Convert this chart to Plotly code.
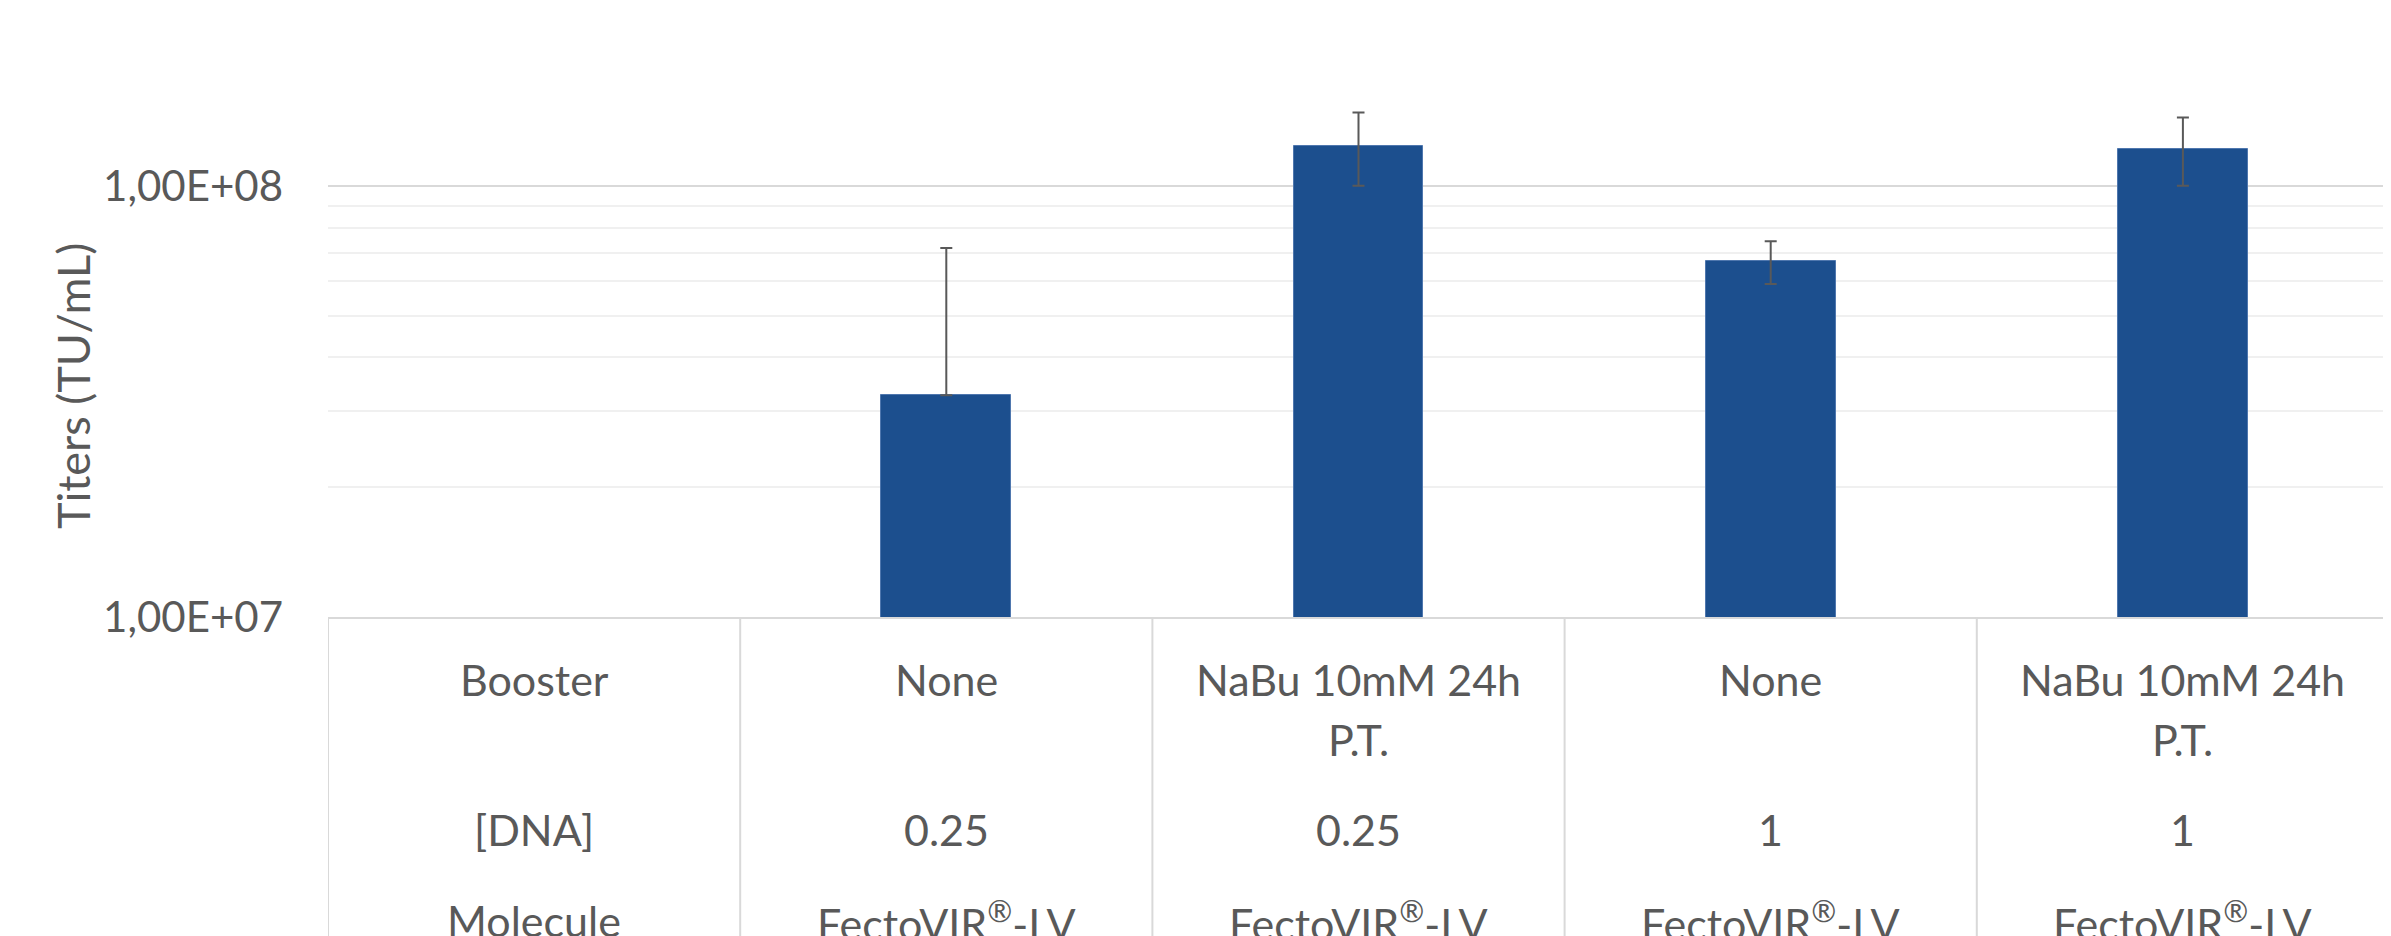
import textwrap
import plotly.graph_objects as go

# ---- data ----
row_headers = ["Booster", "[DNA]", "Molecule"]
booster = ["None", "NaBu 10mM 24h P.T.", "None", "NaBu 10mM 24h P.T."]
dna = ["0.25", "0.25", "1", "1"]
molecule = ["FectoVIR®-LV", "FectoVIR®-LV", "FectoVIR®-LV", "FectoVIR®-LV"]
titers = [3.27e7, 1.24e8, 6.68e7, 1.22e8]
err_plus = [3.9e7, 2.4e7, 7.6e6, 2.2e7]
err_minus = [0, 2.4e7, 7.6e6, 2.2e7]
ytick_vals = [1e7, 1e8]
ytick_text = ["1,00E+07", "1,00E+08"]
yminor_vals = [2e7, 3e7, 4e7, 5e7, 6e7, 7e7, 8e7, 9e7, 2e8]

# page offset (body margin) compensation
OFF = 8
W, H = 2391 - OFF, 936 - OFF
L, T = 328 - OFF, 56 - OFF
R = W - (2389 - OFF)
B = H - (617 - OFF)
plot_h = H - T - B
FONT = "Lato"
TXT = "#595959"
FS = 43

n_cols = len(booster) + 1
xpos = list(range(1, n_cols))

fig = go.Figure()
fig.add_trace(go.Bar(
    x=xpos, y=titers, width=0.315,
    marker=dict(color="#1C4F8E", line=dict(color="#4F77AE", width=1)),
    error_y=dict(type="data", symmetric=False, array=err_plus, arrayminus=err_minus,
                 color="#595959", thickness=2, width=6),
    showlegend=False,
))

def py(px):
    # page pixel y (from top of screenshot) -> paper coordinate
    return (H - B - (px - OFF)) / plot_h

def disp(s):
    return s.replace("®", "<sup>®</sup>")

annotations = []
shapes = []

row_y = {"b1": 679, "dna": 829, "mol": 920}
LINE = 60

def add_text(x, ypx, text):
    annotations.append(dict(x=x, y=py(ypx), xref="x", yref="paper", text=disp(text),
                            showarrow=False, xanchor="center", yanchor="middle",
                            font=dict(family=FONT, size=FS, color=TXT)))

# header column
for label, key in zip(row_headers, ["b1", "dna", "mol"]):
    add_text(0, row_y[key], label)
for i, xp in enumerate(xpos):
    for j, ln in enumerate(textwrap.wrap(booster[i], 14)):
        add_text(xp, row_y["b1"] + LINE * j, ln)
    add_text(xp, row_y["dna"], dna[i])
    add_text(xp, row_y["mol"], molecule[i])

# table vertical dividers
for k in range(n_cols + 1):
    shapes.append(dict(type="line", xref="x", yref="paper", x0=k - 0.5, x1=k - 0.5,
                       y0=0, y1=py(950), line=dict(color="#D9D9D9", width=2)))

# y axis title
annotations.append(dict(x=(73 - 328) / (2389 - 328), y=py(386), xref="paper", yref="paper",
                        text="Titers (TU/mL)", textangle=-90, showarrow=False,
                        xanchor="center", yanchor="middle",
                        font=dict(family=FONT, size=45, color=TXT)))

fig.update_layout(
    width=W, height=H,
    margin=dict(l=L, r=R, t=T, b=B, pad=0),
    paper_bgcolor="white", plot_bgcolor="white",
    annotations=annotations, shapes=shapes,
    bargap=0,
    xaxis=dict(range=[-0.5, n_cols - 0.5], showticklabels=False, showgrid=False,
               zeroline=False, showline=True, linecolor="#D9D9D9", linewidth=2, ticks=""),
    yaxis=dict(type="log", range=[7, 8.30103], tickvals=ytick_vals, ticktext=ytick_text,
               showgrid=True, gridcolor="#D9D9D9", gridwidth=2, zeroline=False,
               showline=False, ticks="", ticklabelstandoff=44,
               tickfont=dict(family=FONT, size=42, color=TXT),
               minor=dict(tickvals=yminor_vals, showgrid=True, gridcolor="#F0F0F0",
                          gridwidth=2, ticks="")),
)

fig.write_html("out.html")
